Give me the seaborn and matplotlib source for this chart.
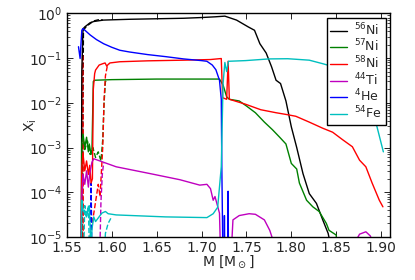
import matplotlib
matplotlib.use("Agg")
import matplotlib.pyplot as plt
import seaborn as sns

sns.set_style("ticks")
plt.rcParams["font.family"] = ["DejaVu Sans"]
plt.rcParams["mathtext.fontset"] = "dejavusans"

# ---------------- data (solid model) ----------------
ni56_x = [1.5660, 1.5667, 1.5680, 1.5700, 1.5760, 1.5800, 1.5907, 1.6000, 1.6200, 1.6500,
          1.6800, 1.7000, 1.7150, 1.7260, 1.7390, 1.7520, 1.7590, 1.7650, 1.7720, 1.7780,
          1.7830, 1.7880, 1.7940, 1.8000, 1.8060, 1.8130, 1.8200, 1.8280, 1.8350, 1.8410, 1.8450]
ni56_y = [1e-6, 0.05, 0.45, 0.5, 0.62, 0.66, 0.71, 0.72, 0.74, 0.76,
          0.78, 0.81, 0.84, 0.87, 0.71, 0.50, 0.42, 0.21, 0.13, 0.064,
          0.032, 0.027, 0.011, 0.0029, 0.001, 2.6e-4, 9.3e-5, 5.6e-5, 2.4e-5, 1.2e-5, 5e-6]

ni57_x = [1.5660, 1.5667, 1.5680, 1.5700, 1.5720, 1.5740, 1.5750, 1.5770, 1.5780, 1.5795,
          1.5810, 1.6000, 1.6500, 1.7200, 1.7240, 1.7280, 1.7310, 1.7420, 1.7500, 1.7600,
          1.7700, 1.7790, 1.7870, 1.7940, 1.8000, 1.8060, 1.8090, 1.8170, 1.8240, 1.8310,
          1.8390, 1.8420, 1.8500, 1.8530]
ni57_y = [1e-6, 1.2e-3, 2e-3, 1e-3, 1.7e-3, 8e-4, 1.2e-3, 7e-4, 9e-4, 0.03,
          0.032, 0.033, 0.034, 0.034, 0.025, 0.0136, 0.012, 0.011, 0.0085, 0.006,
          0.0037, 0.0025, 0.0017, 0.0012, 4.4e-4, 3.3e-4, 1.6e-4, 6.6e-5, 4.7e-5, 3.7e-5,
          2e-5, 1.4e-5, 1.1e-5, 1e-6]

ni58_x = [1.5655, 1.5667, 1.5680, 1.5700, 1.5720, 1.5740, 1.5755, 1.5770, 1.5785, 1.5795,
          1.5810, 1.5820, 1.5860, 1.5900, 1.5926, 1.5945, 1.5960, 1.5980, 1.6090, 1.6400,
          1.6800, 1.7100, 1.7220, 1.7235, 1.7280, 1.7296, 1.7310, 1.7490, 1.7660, 1.7830,
          1.7940, 1.8050, 1.8200, 1.8350, 1.8460, 1.8570, 1.8680, 1.8760, 1.8830, 1.8900,
          1.8980, 1.9020]
ni58_y = [1e-6, 3.7e-4, 7.4e-4, 3e-4, 5e-4, 2.5e-4, 4e-4, 1.6e-4, 2e-4, 0.02,
          0.045, 0.054, 0.07, 0.075, 0.078, 0.066, 0.072, 0.078, 0.083, 0.087,
          0.09, 0.093, 0.098, 0.013, 0.012, 0.085, 0.012, 0.0093, 0.007, 0.006,
          0.0055, 0.005, 0.0037, 0.0027, 0.0022, 0.0015, 0.00104, 5.2e-4, 3.7e-4, 1.6e-4,
          6.6e-5, 4.7e-5]

ti44_x = [1.5655, 1.5667, 1.5680, 1.5700, 1.5720, 1.5740, 1.5755, 1.5770, 1.5780, 1.5800,
          1.6050, 1.6430, 1.6760, 1.6980, 1.7060, 1.7100, 1.7130, 1.7150, 1.7200, 1.7220,
          1.7315, 1.7350, 1.7420, 1.7530, 1.7600, 1.7700, 1.7760, 1.7820, 1.8680, 1.8760,
          1.8830, 1.8880, 1.8920]
ti44_y = [1e-6, 8e-5, 2.5e-4, 1.5e-4, 3e-4, 1.3e-4, 2.6e-4, 3.7e-4, 4.7e-4, 5.6e-4,
          3.7e-4, 2.6e-4, 1.9e-4, 1.44e-4, 1.5e-4, 1.2e-4, 6.6e-5, 8e-5, 3.4e-5, 1e-6,
          1e-6, 2.4e-5, 3e-5, 3.3e-5, 3.2e-5, 2.4e-5, 1.4e-5, 6e-6, 6e-6, 1.15e-5,
          1.3e-5, 1.05e-5, 6e-6]

he4_x = [1.5630, 1.5648, 1.5667, 1.5680, 1.5760, 1.5830, 1.5910, 1.6000, 1.6090, 1.6200,
         1.6400, 1.6600, 1.6800, 1.7000, 1.7060, 1.7120, 1.7160, 1.7200, 1.7220, 1.7226,
         1.7233, 1.7240, 1.7250, 1.7255, 1.7262, 1.7290, 1.7296, 1.7302]
he4_y = [0.18, 0.098, 0.42, 0.46, 0.33, 0.26, 0.21, 0.175, 0.15, 0.137,
         0.12, 0.108, 0.096, 0.088, 0.085, 0.07, 0.055, 0.032, 0.012, 3.7e-4,
         2.7e-5, 1e-6, 1e-6, 3e-5, 1e-6, 1e-6, 1.05e-4, 1e-6]

fe54_x = [1.5655, 1.5667, 1.5680, 1.5720, 1.5750, 1.5770, 1.5780, 1.5800, 1.5820, 1.5890,
          1.5930, 1.5960, 1.6050, 1.6600, 1.7060, 1.7130, 1.7180, 1.7220, 1.7240, 1.7260,
          1.7280, 1.7300, 1.7490, 1.7750, 1.7960, 1.8200, 1.8350, 1.8460, 1.8600, 1.8750,
          1.8850, 1.8930, 1.9025]
fe54_y = [1e-6, 6.6e-5, 4e-5, 2.8e-5, 5e-5, 5e-6, 1.5e-5, 2.8e-5, 2.2e-5, 3.4e-5,
          3.7e-5, 3.3e-5, 3.1e-5, 2.8e-5, 2.7e-5, 3.3e-5, 4.6e-5, 3.7e-4, 0.027, 0.08,
          0.05, 0.085, 0.088, 0.096, 0.097, 0.09, 0.075, 0.065, 0.045, 0.02,
          0.009, 0.0045, 8e-4]

# ---------------- data (dashed model, inner region only) ----------------
ni56d_x = [1.5670, 1.5685, 1.5720, 1.5800, 1.5850, 1.5900]
ni56d_y = [1e-6, 0.42, 0.52, 0.68, 0.72, 0.72]

ni57d_x = [1.5675, 1.5700, 1.5730, 1.5760, 1.5790, 1.5820, 1.5850, 1.5880, 1.5900, 1.5915,
           1.5930, 1.5960]
ni57d_y = [2e-3, 9e-4, 1.4e-3, 7e-4, 1e-3, 6e-4, 8e-4, 5e-4, 1.5e-3, 0.01,
           0.03, 0.033]

ni58d_x = [1.5672, 1.5676, 1.5680, 1.5684, 1.5850, 1.5870, 1.5900, 1.5915, 1.5930, 1.5950,
           1.5970]
ni58d_y = [1e-6, 0.12, 0.002, 1e-6, 1.5e-4, 8e-5, 1e-3, 0.012, 0.04, 0.065,
           0.072]

ti44d_x = [1.5860, 1.5880, 1.5895, 1.5910]
ti44d_y = [1e-6, 6e-5, 2.5e-4, 4.5e-4]

he4d_x = [1.5765, 1.5770, 1.5775, 1.5780]
he4d_y = [1e-6, 1.6e-4, 3e-5, 1e-6]

fe54d_x = [1.5680, 1.5700, 1.5720, 1.5740, 1.5760, 1.5900, 1.5930, 1.5960, 1.5990]
fe54d_y = [1e-6, 5e-5, 3e-5, 5e-5, 1e-6, 1e-6, 1.2e-5, 2e-5, 2.6e-5]

labels = [r"$^{56}$Ni", r"$^{57}$Ni", r"$^{58}$Ni", r"$^{44}$Ti", r"$^{4}$He", r"$^{54}$Fe"]
colors = ["#000000", "#008000", "#ff0000", "#bf00bf", "#0000ff", "#00bfbf"]
solid = [(ni56_x, ni56_y), (ni57_x, ni57_y), (ni58_x, ni58_y),
         (ti44_x, ti44_y), (he4_x, he4_y), (fe54_x, fe54_y)]
dashed = [(ni56d_x, ni56d_y), (ni57d_x, ni57d_y), (ni58d_x, ni58d_y),
          (ti44d_x, ti44d_y), (he4d_x, he4d_y), (fe54d_x, fe54d_y)]

fig = plt.figure(figsize=(4.15, 2.8), dpi=100)
ax = fig.add_axes([0.161, 0.154, 0.779, 0.798])
ax.set_yscale("log")

# dashed first, solid on top
for (xs, ys), c in zip(dashed, colors):
    sns.lineplot(x=xs, y=ys, color=c, lw=1, linestyle="--", estimator=None,
                 sort=False, ax=ax, legend=False)

handles = []
for (xs, ys), c in zip(solid, colors):
    sns.lineplot(x=xs, y=ys, color=c, lw=1, estimator=None, sort=False,
                 ax=ax, legend=False)
    handles.append(ax.lines[-1])

ax.set_xlim(1.55, 1.91)
ax.set_ylim(1e-5, 1)
ax.set_xticks([1.55, 1.60, 1.65, 1.70, 1.75, 1.80, 1.85, 1.90])
ax.set_xticklabels(["1.55", "1.60", "1.65", "1.70", "1.75", "1.80", "1.85", "1.90"])
ax.tick_params(which="both", direction="in", top=True, right=True, labelsize=10,
               color="black", pad=3)
ax.tick_params(which="major", length=4, width=0.6)
ax.tick_params(which="minor", length=2, width=0.5)
for s in ax.spines.values():
    s.set_linewidth(1.0)
    s.set_color("black")

ax.set_xlabel(r"M [M$_\odot$]", fontsize=10, labelpad=-1)
ax.set_ylabel(r"X$_{\rm i}$", fontsize=10, labelpad=-7)

leg = ax.legend(handles, labels, loc="upper right", fontsize=9, frameon=True,
                fancybox=False, framealpha=1, edgecolor="black",
                handlelength=1.3, handletextpad=0.6, labelspacing=0.0,
                borderaxespad=0.35, borderpad=0.3)
leg.get_frame().set_linewidth(1.0)

fig.savefig("out.png", dpi=100)
